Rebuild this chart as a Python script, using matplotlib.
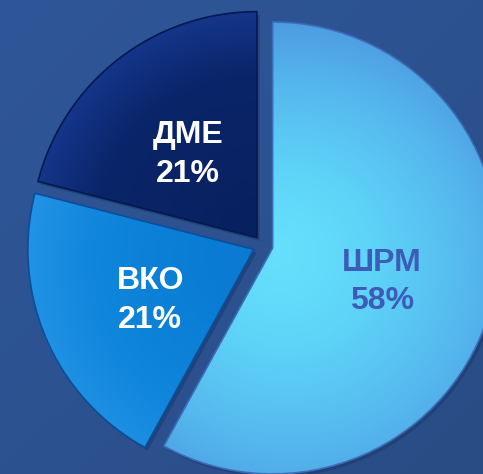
import numpy as np
import matplotlib
matplotlib.use("Agg")
import matplotlib.pyplot as plt
import matplotlib.transforms as mtransforms
from matplotlib.colors import LinearSegmentedColormap
from matplotlib.patches import Wedge

# ---- data ----
categories = ["ШРМ", "ВКО", "ДМЕ"]
shares = [58, 21, 21]
label_colors = ["#3D5CB8", "white", "white"]

# ---- styling ----
slice_gradients = [
    ["#6AE6FF", "#5ED4F8", "#55B8EE", "#4C98E0"],   # ШРМ
    ["#0A78D0", "#0B7ED6", "#1086DC", "#2394E6"],   # ВКО
    ["#07215F", "#092364", "#0A2569", "#14358A"],   # ДМЕ
]
angular_weight = [0.25, 0.2, 0.05]
edge_colors = ["#3C6CB8", "#0B4E9A", "#041A4E"]

fig = plt.figure(figsize=(4.83, 4.74), dpi=100)
ax = fig.add_axes([0, 0, 1, 1])
xl = (-263 / 226, (483 - 263) / 226)
yl = (-(474 - 245.5) / 226, 245.5 / 226)

# background gradient
gx, gy = np.meshgrid(np.linspace(0, 1, 200), np.linspace(0, 1, 200))
bg = 0.5 * gx + 0.5 * (1 - gy)
bg_cmap = LinearSegmentedColormap.from_list("bg", ["#2F5698", "#2C5290", "#294C84"])
ax.imshow(bg, extent=[xl[0], xl[1], yl[0], yl[1]], origin="lower", cmap=bg_cmap,
          aspect="auto", zorder=0)

labels = [f"{c}\n{v}%" for c, v in zip(categories, shares)]
wedges, texts = ax.pie(
    shares, labels=labels, startangle=90, counterclock=False,
    explode=[0.044] * len(shares), radius=1.0, labeldistance=0.5,
    textprops=dict(fontsize=23, fontweight="bold", family="Liberation Sans"),
    wedgeprops=dict(linewidth=1.2),
    frame=True,
)
ax.set_xlim(xl)
ax.set_ylim(yl)
ax.set_aspect("auto")
ax.axis("off")

# shadows
for w in wedges:
    sh = Wedge((w.center[0] + 0.012, w.center[1] - 0.014), w.r, w.theta1, w.theta2,
               facecolor="#1A3566", edgecolor="none", alpha=0.5, zorder=1)
    ax.add_patch(sh)

n = 300
for w, grad, ec, aw in zip(wedges, slice_gradients, edge_colors, angular_weight):
    w.set_facecolor("none")
    w.set_edgecolor(ec)
    w.set_zorder(3)
    cx, cy = w.center
    r = w.r
    X, Y = np.meshgrid(np.linspace(cx - r, cx + r, n), np.linspace(cy - r, cy + r, n))
    d = np.sqrt((X - cx) ** 2 + (Y - cy) ** 2) / r
    ang = (-(X - cx) + (Y - cy)) / (r * 1.414)
    val = np.clip((1 - aw) * d ** 1.3 + aw * (ang + 1) / 2, 0, 1)
    cmap = LinearSegmentedColormap.from_list("g", grad)
    im = ax.imshow(val, extent=[cx - r, cx + r, cy - r, cy + r], origin="lower",
                   cmap=cmap, vmin=0, vmax=1, aspect="auto", zorder=2,
                   interpolation="bilinear")
    im.set_clip_path(w)

shift = mtransforms.ScaledTranslation(0, -6 / 100, fig.dpi_scale_trans)
for t, col in zip(texts, label_colors):
    t.set_color(col)
    t.set_ha("center")
    t.set_va("center")
    t.set_linespacing(1.38)
    t.set_zorder(5)
    t.set_transform(t.get_transform() + shift)

fig.savefig("out.png", dpi=100)
